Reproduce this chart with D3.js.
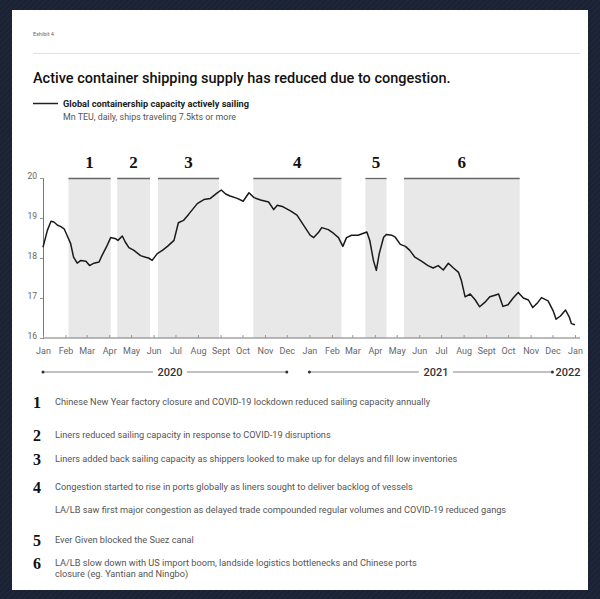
<!DOCTYPE html>
<html>
<head>
<meta charset="utf-8">
<script src="https://cdn.jsdelivr.net/npm/d3@7/dist/d3.min.js"></script>
<style>
  html, body { margin: 0; padding: 0; background: #1a2233; }
  svg { display: block; }
</style>
</head>
<body>
<svg id="chart" width="600" height="599"></svg>
<script>
// Global containership capacity actively sailing (Mn TEU, daily, ships at 7.5 kts or more)
const dates = [
  "2020-01-01","2020-01-07","2020-01-12","2020-01-16","2020-01-21","2020-01-25","2020-01-30",
  "2020-02-03","2020-02-08","2020-02-12","2020-02-17","2020-02-22","2020-02-29","2020-03-05",
  "2020-03-11","2020-03-18","2020-03-22","2020-03-28","2020-04-03","2020-04-10","2020-04-13",
  "2020-04-19","2020-04-23","2020-04-28","2020-05-05","2020-05-14","2020-05-21","2020-05-25",
  "2020-05-30","2020-06-06","2020-06-13","2020-06-20","2020-06-29","2020-07-05","2020-07-12",
  "2020-07-19","2020-07-31","2020-08-09","2020-08-18","2020-08-27","2020-09-02","2020-09-08",
  "2020-09-14","2020-09-24","2020-10-02","2020-10-10","2020-10-17","2020-10-26","2020-11-06",
  "2020-11-13","2020-11-18","2020-11-26","2020-12-06","2020-12-15","2020-12-24","2021-01-02",
  "2021-01-07","2021-01-14","2021-01-18","2021-01-27","2021-02-03","2021-02-10","2021-02-16",
  "2021-02-21","2021-02-28","2021-03-09","2021-03-21","2021-03-25","2021-03-30","2021-04-03",
  "2021-04-07","2021-04-13","2021-04-17","2021-04-24","2021-04-29","2021-05-06","2021-05-13",
  "2021-05-19","2021-05-26","2021-06-04","2021-06-13","2021-06-20","2021-06-27","2021-07-04",
  "2021-07-11","2021-07-18","2021-07-25","2021-07-29","2021-08-03","2021-08-10","2021-08-17",
  "2021-08-23","2021-08-30","2021-09-06","2021-09-13","2021-09-18","2021-09-24","2021-10-01",
  "2021-10-08","2021-10-15","2021-10-22","2021-10-29","2021-11-04","2021-11-11","2021-11-16",
  "2021-11-25","2021-12-02","2021-12-06","2021-12-12","2021-12-19","2021-12-24","2021-12-27",
  "2022-01-01"
];
const capacity = [
  18.27,18.69,18.92,18.90,18.82,18.79,18.73,
  18.57,18.36,18.02,17.87,17.94,17.92,17.81,
  17.87,17.90,18.06,18.27,18.51,18.48,18.44,
  18.55,18.40,18.26,18.19,18.06,18.02,18.00,
  17.94,18.11,18.19,18.29,18.44,18.88,18.94,
  19.09,19.36,19.46,19.49,19.62,19.70,19.60,
  19.55,19.49,19.42,19.63,19.51,19.45,19.40,
  19.21,19.32,19.28,19.18,19.07,18.82,18.57,
  18.51,18.65,18.76,18.71,18.62,18.51,18.29,
  18.51,18.57,18.57,18.65,18.44,17.94,17.69,
  18.11,18.52,18.59,18.57,18.52,18.34,18.29,
  18.19,18.02,17.92,17.81,17.75,17.81,17.70,
  17.87,17.75,17.64,17.43,17.03,17.10,16.95,
  16.78,16.89,17.03,17.07,17.10,16.79,16.83,
  17.00,17.14,17.00,16.95,16.76,16.89,17.01,
  16.93,16.68,16.47,16.55,16.70,16.53,16.36,
  16.33
];

// Highlighted periods
const periodLabels = ["1","2","3","4","5","6"];
const periodStart  = ["2020-02-05","2020-04-12","2020-06-07","2020-10-16","2021-03-19","2021-05-11"];
const periodEnd    = ["2020-04-03","2020-05-27","2020-08-30","2021-02-14","2021-04-17","2021-10-17"];

const yTicks = [16, 17, 18, 19, 20];
const monthLabels = ["Jan","Feb","Mar","Apr","May","Jun","Jul","Aug","Sept","Oct","Nov","Dec"];
const years = ["2020","2021"];
const yearEndLabel = "2022";

const noteNumbers = ["1","2","3","4","5","6"];
const notes = [
  ["Chinese New Year factory closure and COVID-19 lockdown reduced sailing capacity annually"],
  ["Liners reduced sailing capacity in response to COVID-19 disruptions"],
  ["Liners added back sailing capacity as shippers looked to make up for delays and fill low inventories"],
  ["Congestion started to rise in ports globally as liners sought to deliver backlog of vessels",
   "LA/LB saw first major congestion as delayed trade compounded regular volumes and COVID-19 reduced gangs"],
  ["Ever Given blocked the Suez canal"],
  ["LA/LB slow down with US import boom, landside logistics bottlenecks and Chinese ports",
   "closure (eg. Yantian and Ningbo)"]
];

const parse = d3.utcParse("%Y-%m-%d");
const series = dates.map((d, i) => ({ date: parse(d), value: capacity[i] }));

const svg = d3.select("#chart");
const W = 600, H = 599;

// Backdrop with subtle diagonal texture
const defs = svg.append("defs");
const pat = defs.append("pattern").attr("id", "diag").attr("patternUnits", "userSpaceOnUse")
  .attr("width", 4).attr("height", 4).attr("patternTransform", "rotate(45)");
pat.append("rect").attr("width", 4).attr("height", 4).attr("fill", "#1a2233");
pat.append("line").attr("x1", 0).attr("y1", 0).attr("x2", 0).attr("y2", 4)
  .attr("stroke", "#222b3e").attr("stroke-width", 1.5);
svg.append("rect").attr("width", W).attr("height", H).attr("fill", "url(#diag)");

// Paper
svg.append("rect").attr("x", 12).attr("y", 10).attr("width", 576).attr("height", 580).attr("fill", "#ffffff");

const font = "Roboto, 'Liberation Sans', Arial, sans-serif";
const serif = "'Liberation Serif', 'DejaVu Serif', serif";

// Header
svg.append("text").attr("x", 33).attr("y", 36).attr("font-family", font).attr("font-size", 5.5)
  .attr("fill", "#666").text("Exhibit 4");
svg.append("line").attr("x1", 33).attr("x2", 580).attr("y1", 53.5).attr("y2", 53.5)
  .attr("stroke", "#e2e2e2").attr("stroke-width", 1);
svg.append("text").attr("x", 33).attr("y", 83).attr("font-family", font).attr("font-size", 14.5)
  .attr("font-weight", 500).attr("fill", "#111")
  .text("Active container shipping supply has reduced due to congestion.");

// Legend
svg.append("line").attr("x1", 33).attr("x2", 58).attr("y1", 103.5).attr("y2", 103.5)
  .attr("stroke", "#222").attr("stroke-width", 1.5);
svg.append("text").attr("x", 63).attr("y", 106.5).attr("font-family", font).attr("font-size", 9.2)
  .attr("font-weight", 700).attr("fill", "#222").text("Global containership capacity actively sailing");
svg.append("text").attr("x", 63).attr("y", 119.5).attr("font-family", font).attr("font-size", 8.9)
  .attr("fill", "#555").text("Mn TEU, daily, ships traveling 7.5kts or more");

// Scales
const x = d3.scaleUtc().domain([parse("2020-01-01"), parse("2022-01-01")]).range([43, 575]);
const y = d3.scaleLinear().domain([16, 20]).range([338, 178]);

// Shaded periods
const periods = periodLabels.map((l, i) => ({ label: l, s: parse(periodStart[i]), e: parse(periodEnd[i]) }));
const pg = svg.append("g");
pg.selectAll("rect").data(periods).join("rect")
  .attr("x", d => x(d.s)).attr("width", d => x(d.e) - x(d.s))
  .attr("y", y(20)).attr("height", y(16) - y(20))
  .attr("fill", "#e8e8e8");
pg.selectAll("line").data(periods).join("line")
  .attr("x1", d => x(d.s)).attr("x2", d => x(d.e))
  .attr("y1", y(20) + 0.5).attr("y2", y(20) + 0.5)
  .attr("stroke", "#666").attr("stroke-width", 1.3);
pg.selectAll("text").data(periods).join("text")
  .attr("x", d => (x(d.s) + x(d.e)) / 2).attr("y", 168)
  .attr("text-anchor", "middle").attr("font-family", serif).attr("font-weight", 700)
  .attr("font-size", 17).attr("fill", "#111").text(d => d.label);

// Y axis
const yAxis = svg.append("g").attr("transform", `translate(${x.range()[0]},0)`)
  .call(d3.axisLeft(y).tickValues(yTicks).tickSize(3).tickPadding(3).tickFormat(d3.format("d")));
yAxis.select(".domain").attr("stroke", "#777");
yAxis.selectAll(".tick line").attr("stroke", "#999");
yAxis.selectAll("text").attr("font-family", font).attr("font-size", 8.5).attr("fill", "#666")
  .attr("dy", "0.1em");

// X axis: month ticks
const xAxis = svg.append("g").attr("transform", `translate(0,${y(16)})`)
  .call(d3.axisBottom(x).ticks(d3.utcMonth.every(1)).tickSize(-3).tickPadding(10)
    .tickFormat(d => monthLabels[d.getUTCMonth()]));
xAxis.select(".domain").attr("stroke", "#777").attr("d", `M${x.range()[0]},0H${x.range()[1] + 5}`);
xAxis.selectAll(".tick line").attr("stroke", "#999");
xAxis.selectAll("text").attr("font-family", font).attr("font-size", 9).attr("fill", "#666");

// Year brackets
const yg = svg.append("g").attr("font-family", font);
const yearRowY = 372;
years.forEach(yr => {
  const a = x(parse(yr + "-01-01")), b = x(parse(yr + "-12-01"));
  const mid = (a + b) / 2 + 5;
  yg.append("line").attr("x1", a).attr("x2", mid - 17).attr("y1", yearRowY).attr("y2", yearRowY)
    .attr("stroke", "#666").attr("stroke-width", 0.8);
  yg.append("line").attr("x1", mid + 17).attr("x2", b).attr("y1", yearRowY).attr("y2", yearRowY)
    .attr("stroke", "#666").attr("stroke-width", 0.8);
  yg.append("circle").attr("cx", a).attr("cy", yearRowY).attr("r", 1.5).attr("fill", "#333");
  yg.append("circle").attr("cx", b).attr("cy", yearRowY).attr("r", 1.5).attr("fill", "#333");
  yg.append("text").attr("x", mid).attr("y", yearRowY + 4).attr("text-anchor", "middle")
    .attr("font-size", 11).attr("font-weight", 500).attr("fill", "#333").text(yr);
});
yg.append("text").attr("x", x(parse("2021-12-01")) + 3).attr("y", yearRowY + 4)
  .attr("font-size", 11).attr("font-weight", 500).attr("fill", "#333").text(yearEndLabel);

// Capacity line
const line = d3.line().x(d => x(d.date)).y(d => y(d.value)).curve(d3.curveLinear);
svg.append("path").datum(series).attr("d", line)
  .attr("fill", "none").attr("stroke", "#1a1a1a").attr("stroke-width", 1.5)
  .attr("stroke-linejoin", "round");

// Notes
const noteY = [402, 435, 459, 487, 540, 563];
const ng = svg.append("g");
notes.forEach((lines, i) => {
  ng.append("text").attr("x", 33).attr("y", noteY[i] + 6).attr("font-family", serif)
    .attr("font-weight", 700).attr("font-size", 16).attr("fill", "#111").text(noteNumbers[i]);
  lines.forEach((t, j) => {
    ng.append("text").attr("x", 55).attr("y", noteY[i] + 3 + j * (i === 3 ? 23 : 10.5))
      .attr("font-family", font).attr("font-size", 9.2).attr("fill", "#555").text(t);
  });
});
</script>
</body>
</html>
